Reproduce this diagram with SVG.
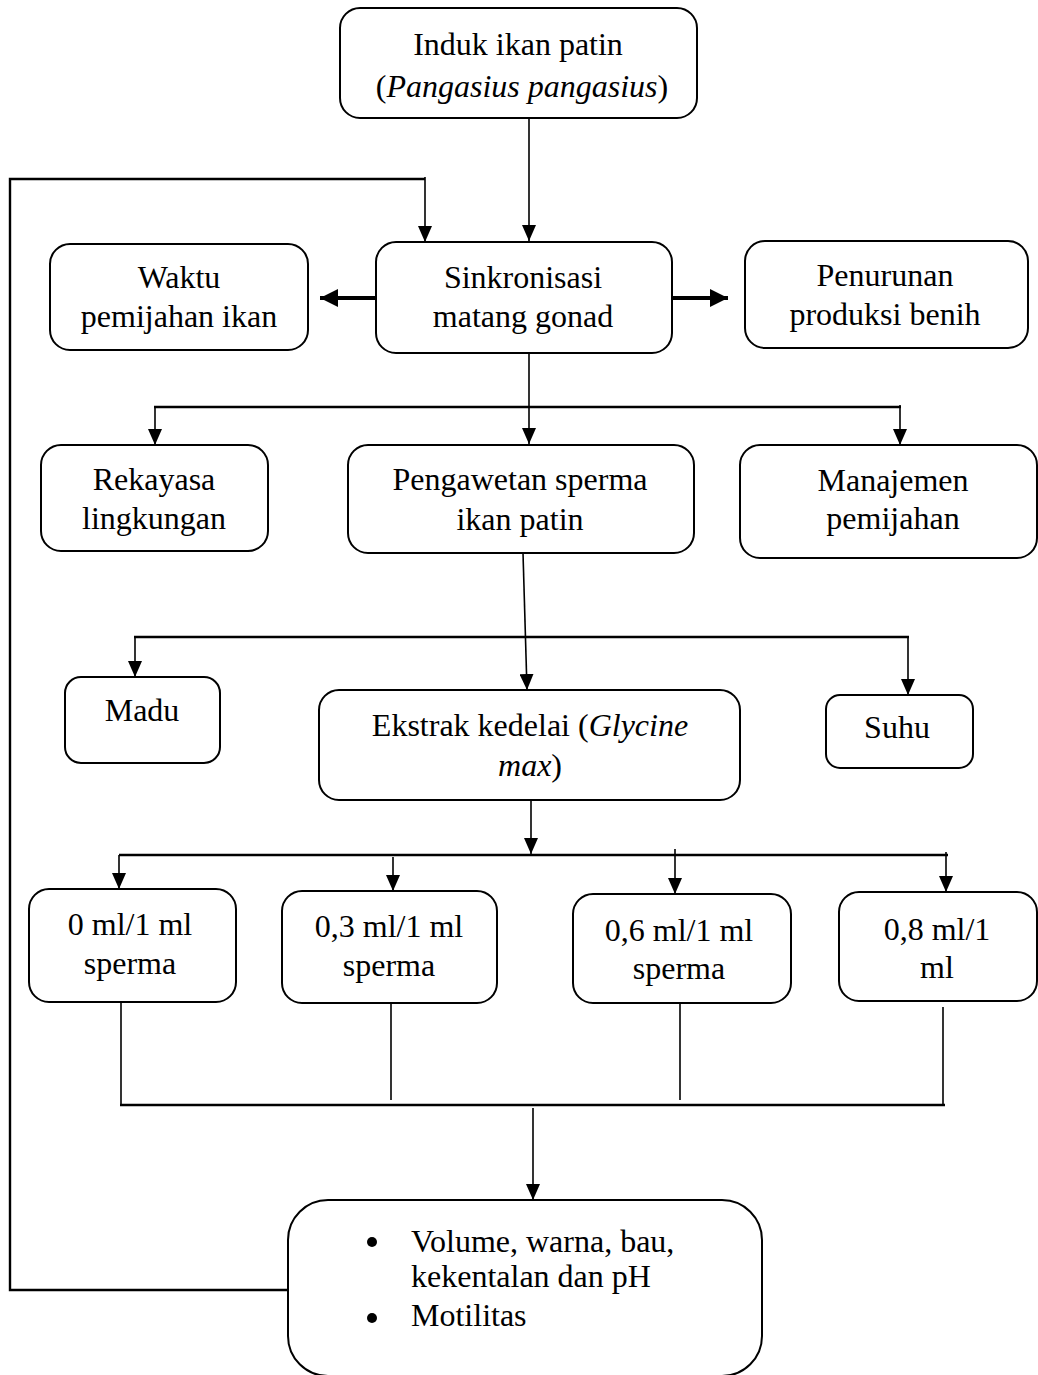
<svg xmlns="http://www.w3.org/2000/svg" width="1038" height="1375" viewBox="0 0 1038 1375">
<defs>
<style>
.box{fill:#fff;stroke:#000;stroke-width:2}
.t{font-family:"Liberation Serif","Times New Roman",serif;font-size:32px;fill:#000;text-anchor:middle}
.tl{font-family:"Liberation Serif","Times New Roman",serif;font-size:32px;fill:#000}
.c{fill:none;stroke:#000;stroke-width:1.6}
.ct{fill:none;stroke:#000;stroke-width:2.4}
.thick{fill:none;stroke:#000;stroke-width:4}
.a{marker-end:url(#ah)}
</style>
<marker id="ah" markerUnits="userSpaceOnUse" viewBox="0 0 16 14" markerWidth="16" markerHeight="14" refX="16" refY="7" orient="auto">
<path d="M0,0 L16,7 L0,14 z" fill="#000"/>
</marker>
<marker id="ahb" markerUnits="userSpaceOnUse" viewBox="0 0 18 18" markerWidth="18" markerHeight="18" refX="18" refY="9" orient="auto">
<path d="M0,0 L18,9 L0,18 z" fill="#000"/>
</marker>
</defs>
<rect width="1038" height="1375" fill="#fff"/>
<g id="connectors">
<line class="c a" x1="529" y1="118" x2="529" y2="241"/>
<path class="ct" d="M288 1290 H10 V179 H425"/>
<line class="c a" x1="425" y1="177" x2="425" y2="242"/>
<line class="thick" x1="377" y1="298" x2="320" y2="298" marker-end="url(#ahb)"/>
<line class="thick" x1="672" y1="298" x2="728" y2="298" marker-end="url(#ahb)"/>
<line class="c a" x1="529" y1="353" x2="529" y2="444"/>
<line class="ct" x1="154" y1="407" x2="901" y2="407"/>
<line class="c a" x1="155" y1="407" x2="155" y2="445"/>
<line class="c a" x1="900" y1="405" x2="900" y2="445"/>
<line class="c a" x1="523" y1="553" x2="527" y2="690"/>
<line class="ct" x1="134" y1="637" x2="909" y2="637"/>
<line class="c a" x1="135" y1="637" x2="135" y2="677"/>
<line class="c a" x1="908" y1="637" x2="908" y2="695"/>
<line class="c a" x1="531" y1="800" x2="531" y2="854"/>
<line class="ct" x1="119" y1="855" x2="948" y2="855"/>
<line class="c a" x1="119" y1="855" x2="119" y2="889"/>
<line class="c a" x1="393" y1="857" x2="393" y2="891"/>
<line class="c a" x1="675" y1="849" x2="675" y2="894"/>
<line class="c a" x1="946" y1="852" x2="946" y2="892"/>
<line class="c" x1="121" y1="1002" x2="121" y2="1105"/>
<line class="c" x1="391" y1="1004" x2="391" y2="1100"/>
<line class="c" x1="680" y1="1003" x2="680" y2="1100"/>
<line class="c" x1="943" y1="1007" x2="943" y2="1105"/>
<line class="ct" x1="120" y1="1105" x2="945" y2="1105"/>
<line class="c a" x1="533" y1="1108" x2="533" y2="1200"/>
</g>
<g id="n-induk">
<rect class="box" x="340" y="8" width="357" height="110" rx="20"/>
<text class="t" x="518" y="55">Induk ikan patin</text>
<text class="t" x="522" y="97">(<tspan font-style="italic">Pangasius pangasius</tspan>)</text>
</g>
<g id="n-sinkronisasi">
<rect class="box" x="376" y="242" width="296" height="111" rx="20"/>
<text class="t" x="523" y="288">Sinkronisasi</text>
<text class="t" x="523" y="327">matang gonad</text>
</g>
<g id="n-waktu">
<rect class="box" x="50" y="244" width="258" height="106" rx="20"/>
<text class="t" x="179" y="288">Waktu</text>
<text class="t" x="179" y="327">pemijahan ikan</text>
</g>
<g id="n-penurunan">
<rect class="box" x="745" y="241" width="283" height="107" rx="20"/>
<text class="t" x="885" y="286">Penurunan</text>
<text class="t" x="885" y="325">produksi benih</text>
</g>
<g id="n-rekayasa">
<rect class="box" x="41" y="445" width="227" height="106" rx="20"/>
<text class="t" x="154" y="490">Rekayasa</text>
<text class="t" x="154" y="529">lingkungan</text>
</g>
<g id="n-pengawetan">
<rect class="box" x="348" y="445" width="346" height="108" rx="20"/>
<text class="t" x="520" y="490">Pengawetan sperma</text>
<text class="t" x="520" y="530">ikan patin</text>
</g>
<g id="n-manajemen">
<rect class="box" x="740" y="445" width="297" height="113" rx="20"/>
<text class="t" x="893" y="491">Manajemen</text>
<text class="t" x="893" y="529">pemijahan</text>
</g>
<g id="n-madu">
<rect class="box" x="65" y="677" width="155" height="86" rx="16"/>
<text class="t" x="142" y="721">Madu</text>
</g>
<g id="n-ekstrak">
<rect class="box" x="319" y="690" width="421" height="110" rx="20"/>
<text class="t" x="530" y="736">Ekstrak kedelai (<tspan font-style="italic">Glycine</tspan></text>
<text class="t" x="530" y="776"><tspan font-style="italic">max</tspan>)</text>
</g>
<g id="n-suhu">
<rect class="box" x="826" y="695" width="147" height="73" rx="14"/>
<text class="t" x="897" y="738">Suhu</text>
</g>
<g id="n-0">
<rect class="box" x="29" y="889" width="207" height="113" rx="20"/>
<text class="t" x="130" y="935">0 ml/1 ml</text>
<text class="t" x="130" y="974">sperma</text>
</g>
<g id="n-03">
<rect class="box" x="282" y="891" width="215" height="112" rx="20"/>
<text class="t" x="389" y="937">0,3 ml/1 ml</text>
<text class="t" x="389" y="976">sperma</text>
</g>
<g id="n-06">
<rect class="box" x="573" y="894" width="218" height="109" rx="20"/>
<text class="t" x="679" y="941">0,6 ml/1 ml</text>
<text class="t" x="679" y="979">sperma</text>
</g>
<g id="n-08">
<rect class="box" x="839" y="892" width="198" height="109" rx="20"/>
<text class="t" x="937" y="940">0,8 ml/1</text>
<text class="t" x="937" y="978">ml</text>
</g>
<g id="n-hasil">
<rect class="box" x="288" y="1200" width="474" height="176" rx="40"/>
<circle cx="372" cy="1242" r="5"/>
<circle cx="372" cy="1318" r="5"/>
<text class="tl" x="411" y="1252">Volume, warna, bau,</text>
<text class="tl" x="411" y="1287">kekentalan dan pH</text>
<text class="tl" x="411" y="1326">Motilitas</text>
</g>
</svg>
